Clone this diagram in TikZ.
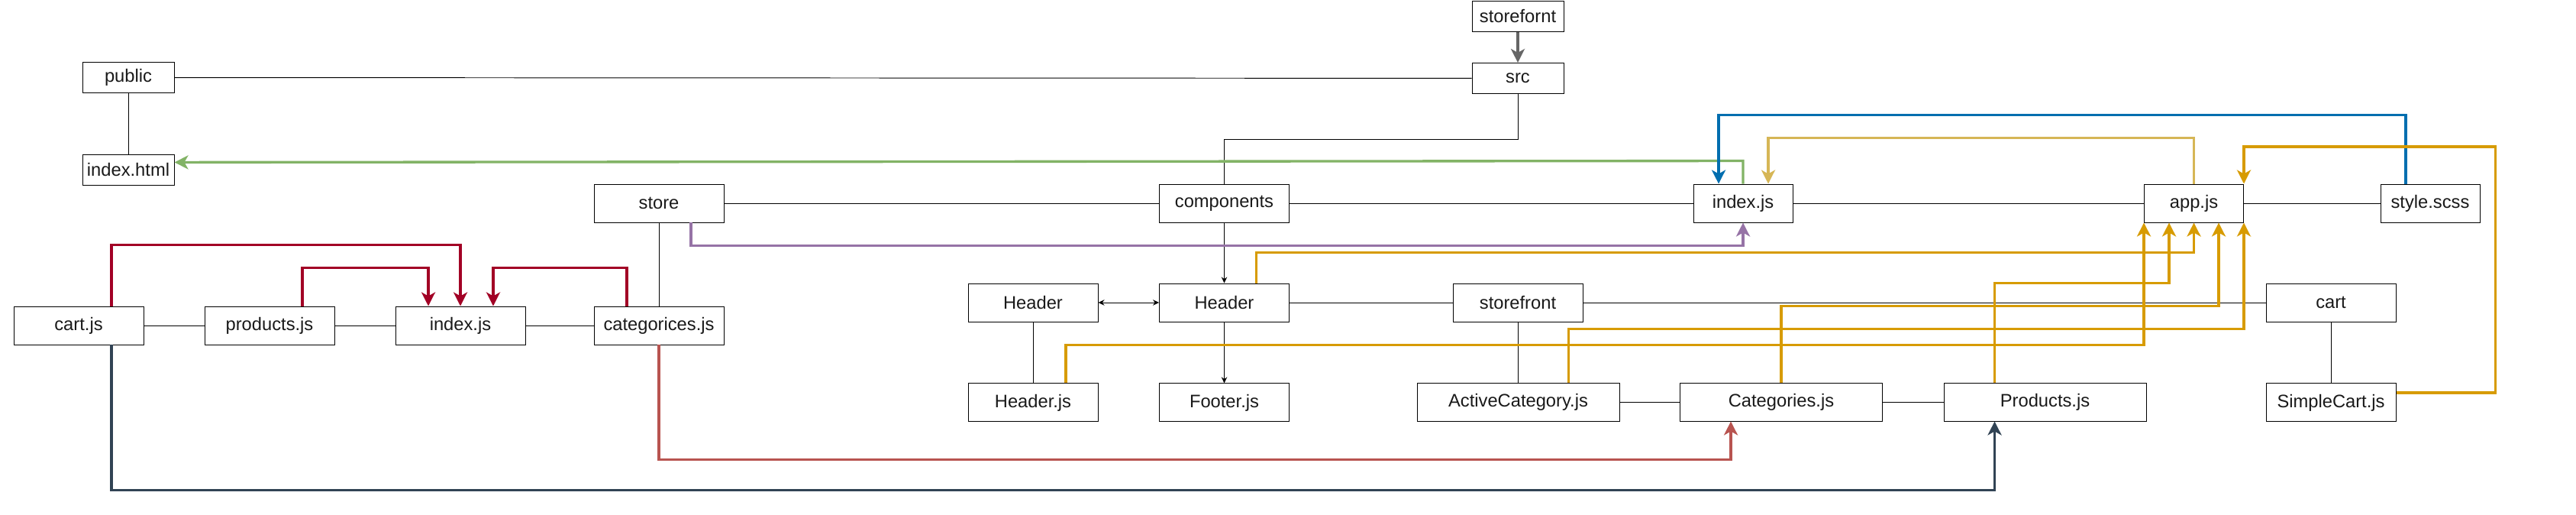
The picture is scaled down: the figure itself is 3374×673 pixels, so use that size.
\documentclass[tikz,border=0pt]{standalone}
\usepackage{fontspec}
\setmainfont{Liberation Sans}
\usepackage{xcolor}
\usetikzlibrary{arrows.meta,positioning}
\definecolor{cgreen}{HTML}{82B366}
\definecolor{cpurple}{HTML}{9673A6}
\definecolor{cblue}{HTML}{006EAF}
\definecolor{cgold}{HTML}{D6B656}
\definecolor{corange}{HTML}{D79B00}
\definecolor{ccrimson}{HTML}{A20025}
\definecolor{cred}{HTML}{B85450}
\definecolor{cdark}{HTML}{314354}
\definecolor{cgray}{HTML}{666666}

\begin{document}
\begin{tikzpicture}[
  x=0.02cm, y=-0.02cm,
  box/.style={draw, line width=0.55pt, minimum width=3.4cm, minimum height=1cm,
              inner sep=0pt, text=black!90, font=\fontsize{13.5}{16}\selectfont},
  small/.style={box, minimum width=2.4cm, minimum height=0.8cm},
  mid/.style={box, minimum width=2.6cm},
  wide/.style={box, minimum width=5.3cm},
  tree/.style={line width=0.55pt},
  dep/.style={line width=1.9pt, -{Stealth[length=3.6mm,width=3.6mm,inset=1mm]}},
  >={Stealth[length=1.6mm,width=1.5mm]},
]
  \useasboundingbox (0,0) rectangle (3374,673);

  \node[small] (sfn) at (1988,21.5) {storefornt};
  \node[small, below=0.8cm of sfn] (src) {src};
  \node[small] (pub) at (168,101.5) {public};
  \node[small, below=1.6cm of pub] (html) {index.html};

  \node[box] (store) at (863,266) {store};
  \node[box] (comp) at (1603.5,266) {components};
  \node[mid] (idx) at (2283,266) {index.js};
  \node[mid] (app) at (2873.5,266) {app.js};
  \node[mid] (scss) at (3183,266) {style.scss};

  \node[box] (cartjs) at (103,426) {cart.js};
  \node[box] (prodjs) at (353,426) {products.js};
  \node[box] (storeidx) at (603,426) {index.js};
  \node[box] (catjs) at (863,426) {categorices.js};

  \node[box] (hdrl) at (1353,396) {Header};
  \node[box] (hdr) at (1603.5,396) {Header};
  \node[box] (sfront) at (1988,396) {storefront};
  \node[box] (cart) at (3053,396) {cart};

  \node[box, below=1.6cm of hdrl] (hjs) {Header.js};
  \node[box, below=1.6cm of hdr] (fjs) {Footer.js};
  \node[wide] (acjs) at (1988.5,526) {ActiveCategory.js};
  \node[wide] (cjs) at (2333,526) {Categories.js};
  \node[wide] (pjs) at (2678.5,526) {Products.js};
  \node[box, below=1.6cm of cart] (scart) {SimpleCart.js};

  \draw[tree] (pub) -- (src);
  \draw[tree] (pub) -- (html);
  \draw[tree] (src.south) -- ++(0,60) -| (comp.north);
  \draw[tree] (store) -- (comp) -- (idx) -- (app) -- (scss);
  \draw[tree] (store) -- (catjs);
  \draw[tree] (cartjs) -- (prodjs) -- (storeidx) -- (catjs);
  \draw[tree, ->] (comp) -- (hdr);
  \draw[tree, <->] (hdrl) -- (hdr);
  \draw[tree, ->] (hdr) -- (fjs);
  \draw[tree] (hdr) -- (sfront) -- (cart);
  \draw[tree] (hdrl) -- (hjs);
  \draw[tree] (sfront) -- (sfront |- acjs.north);
  \draw[tree] (acjs) -- (cjs) -- (pjs);
  \draw[tree] (cart) -- (scart);

  \draw[dep, cgray] (sfn) -- (src);
  \draw[dep, cgreen] (idx.north) -- ++(0,-30) -- ([yshift=0.2cm]html.east);
  \draw[dep, cpurple] ([xshift=0.84cm]store.south) -- ++(0,30) -| (idx.south);
  \draw[dep, cblue] ([xshift=-0.64cm]scss.north) -- ++(0,-90) -| ([xshift=-0.64cm]idx.north);
  \draw[dep, cgold] (app.north) -- ++(0,-60) -| ([xshift=0.66cm]idx.north);
  \draw[dep, corange] ([yshift=0.26cm]scart.east) -- ++(130,0) -- ++(0,-322) -| (app.north east);
  \draw[dep, corange] ([xshift=0.84cm]hdr.north) -- ++(0,-40) -| (app.south);
  \draw[dep, corange] ([xshift=0.86cm]hjs.north) -- ++(0,-50) -| (app.south west);
  \draw[dep, corange] ([xshift=-1.32cm]pjs.north) -- ++(0,-130) -| ([xshift=-0.65cm]app.south);
  \draw[dep, corange] (cjs.north) -- ++(0,-100) -| ([xshift=0.65cm]app.south);
  \draw[dep, corange] ([xshift=1.32cm]acjs.north) -- ++(0,-70) -| (app.south east);
  \draw[dep, ccrimson] ([xshift=0.86cm]cartjs.north) -- ++(0,-80) -| (storeidx.north);
  \draw[dep, ccrimson] ([xshift=0.86cm]prodjs.north) -- ++(0,-50) -| ([xshift=-0.84cm]storeidx.north);
  \draw[dep, ccrimson] ([xshift=-0.84cm]catjs.north) -- ++(0,-50) -| ([xshift=0.86cm]storeidx.north);
  \draw[dep, cred] (catjs.south) -- ++(0,150) -| ([xshift=-1.32cm]cjs.south);
  \draw[dep, cdark] ([xshift=0.86cm]cartjs.south) -- ++(0,190) -| ([xshift=-1.32cm]pjs.south);
\end{tikzpicture}
\end{document}
